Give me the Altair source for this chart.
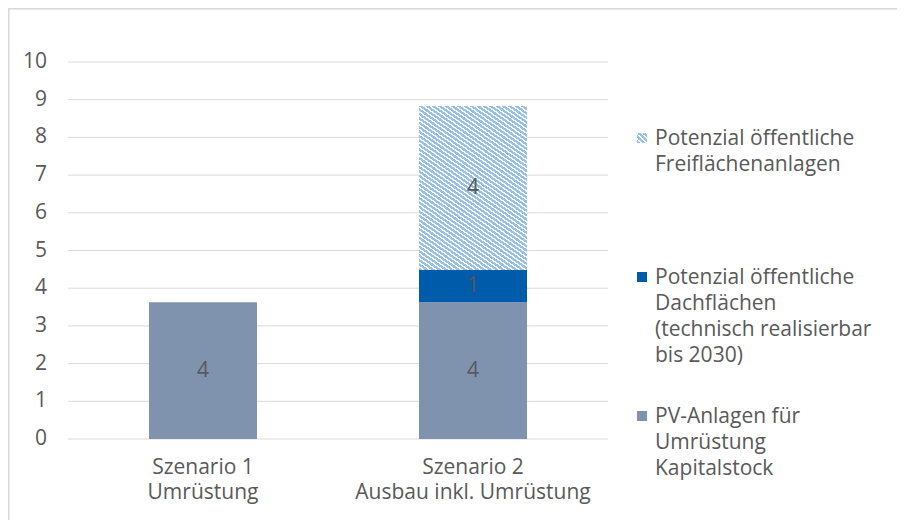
import altair as alt
import pandas as pd

# ---- data -------------------------------------------------------------
scenarios = ["Szenario 1|Umrüstung", "Szenario 2|Ausbau inkl. Umrüstung"]
series_keys = ["PV", "Dach", "Frei"]
legend_labels = [
    "PV-Anlagen für|Umrüstung|Kapitalstock",
    "Potenzial öffentliche|Dachflächen|(technisch realisierbar|bis 2030)",
    "Potenzial öffentliche|Freiflächenanlagen",
]
values_s1 = [3.63, 0.0, 0.0]
values_s2 = [3.63, 0.85, 4.35]
y_ticks = [0, 1, 2, 3, 4, 5, 6, 7, 8, 9, 10]

colors = ["#7F93AF", "#005BAA", "#9DC3E6"]
legend_order = ["Frei", "Dach", "PV"]

rows = []
for sc, vals in zip(scenarios, [values_s1, values_s2]):
    for i, (k, v) in enumerate(zip(series_keys, vals)):
        if v > 0:
            rows.append({"scenario": sc, "series": k, "value": v, "order": i})
df = pd.DataFrame(rows)
tick_df = pd.DataFrame({"tick": y_ticks})
leg_df = pd.DataFrame({"key": series_keys, "label": legend_labels})

FONT = "Open Sans"
FS = 21
TXT = "#595959"
GRID = "#D9D9D9"
HATCH_BLUE = "#96C0E8"


def stripes(n, frac, c1, c2):
    st = []
    for i in range(n):
        a = i / n
        b = (i + frac) / n
        c = (i + 1) / n
        st += [
            {"offset": a, "color": c1},
            {"offset": b, "color": c1},
            {"offset": b, "color": c2},
            {"offset": c, "color": c2},
        ]
    return st


hatch_fill = {
    "gradient": "linear",
    "x1": 0, "y1": 1, "x2": 0.552, "y2": -0.205,
    "stops": stripes(54, 0.62, HATCH_BLUE, "#FFFFFF"),
}
hatch_small = {
    "gradient": "linear",
    "x1": 0, "y1": 1, "x2": 1, "y2": 0,
    "stops": stripes(4, 0.6, HATCH_BLUE, "#FFFFFF"),
}

# ---- bars --------------------------------------------------------------
x_enc = alt.X(
    "scenario:N",
    sort=scenarios,
    scale=alt.Scale(paddingInner=0.6, paddingOuter=0.3),
    axis=alt.Axis(
        title=None, domain=False, ticks=False, labelAngle=0, labelLimit=500,
        labelExpr="split(datum.label, '|')", labelLineHeight=25,
        labelPadding=17, labelFont=FONT, labelFontSize=FS, labelColor=TXT,
    ),
)
y_scale = alt.Scale(domain=[0, 10], nice=False, zero=True)

# gridlines and y labels, drawn from the tick values through the y scale
grid = alt.Chart(tick_df).mark_rule(color=GRID, strokeWidth=1).encode(
    y=alt.Y("tick:Q", scale=y_scale, axis=None),
    x=alt.value(0), x2=alt.value(540),
)
ylabels = alt.Chart(tick_df).mark_text(
    align="right", baseline="middle", font=FONT, fontSize=FS, color=TXT,
).encode(
    y=alt.Y("tick:Q", scale=y_scale, axis=None),
    x=alt.value(-21), text="tick:Q",
)

base = alt.Chart(df).transform_stack(
    stack="value", groupby=["scenario"], sort=[alt.SortField("order")],
    as_=["y0", "y1"],
)

bars = base.mark_bar().encode(
    x=x_enc,
    y=alt.Y("y0:Q", scale=y_scale, axis=None),
    y2="y1:Q",
    color=alt.Color("series:N", scale=alt.Scale(domain=series_keys, range=colors), legend=None),
)

hatch = base.transform_filter(alt.datum.series == "Frei").mark_bar(fill=hatch_fill).encode(
    x=x_enc, y=alt.Y("y0:Q", scale=y_scale, axis=None), y2="y1:Q",
)

labels = base.transform_calculate(mid="(datum.y0 + datum.y1) / 2").mark_text(
    font=FONT, fontSize=FS, color=TXT, baseline="middle",
).encode(
    x=x_enc, y=alt.Y("mid:Q", scale=y_scale, axis=None),
    text=alt.Text("value:Q", format=".0f"),
)

main = alt.layer(grid, ylabels, bars, hatch, labels)

# ---- legend (to the right of the plot area) ------------------------------
leg_y = alt.Y("key:N", scale=alt.Scale(type="point", domain=legend_order, range=[76, 354], padding=0), axis=None)

leg_sq = alt.Chart(leg_df).mark_square(size=100, opacity=1, filled=True).encode(
    y=leg_y, x=alt.value(574),
    color=alt.Color("key:N", scale=alt.Scale(domain=series_keys, range=colors), legend=None),
)
leg_hatch = alt.Chart(leg_df).transform_filter(alt.datum.key == "Frei").mark_square(
    size=100, opacity=1, filled=True, fill=hatch_small,
).encode(y=leg_y, x=alt.value(574))
leg_txt = alt.Chart(leg_df).transform_calculate(lines="split(datum.label, '|')").mark_text(
    align="left", baseline="top", dy=-10, font=FONT, fontSize=FS, lineHeight=26, color=TXT,
).encode(y=leg_y, x=alt.value(587), text="lines:N")

legend = alt.layer(leg_sq, leg_hatch, leg_txt)

# ---- chart frame (light border as in the reference) ---------------------
frame_left = alt.Chart(leg_df).mark_rule(color=GRID, strokeWidth=1.5).encode(
    x=alt.value(-59.5), y=alt.value(-53.5), y2=alt.value(460),
)
frame_top = alt.Chart(leg_df).mark_rule(color=GRID, strokeWidth=1.5).encode(
    x=alt.value(-59.5), x2=alt.value(829), y=alt.value(-53.5),
)

chart = alt.layer(frame_left, frame_top, main, legend).resolve_scale(
    y="independent", color="independent"
).properties(
    width=540, height=377,
    autosize=alt.AutoSizeParams(type="none"),
    padding={"left": 60, "top": 54, "right": 289, "bottom": 81},
    background="white",
).configure_view(stroke=None)

chart.save("out.html", embed_options={"renderer": "svg", "actions": False})
